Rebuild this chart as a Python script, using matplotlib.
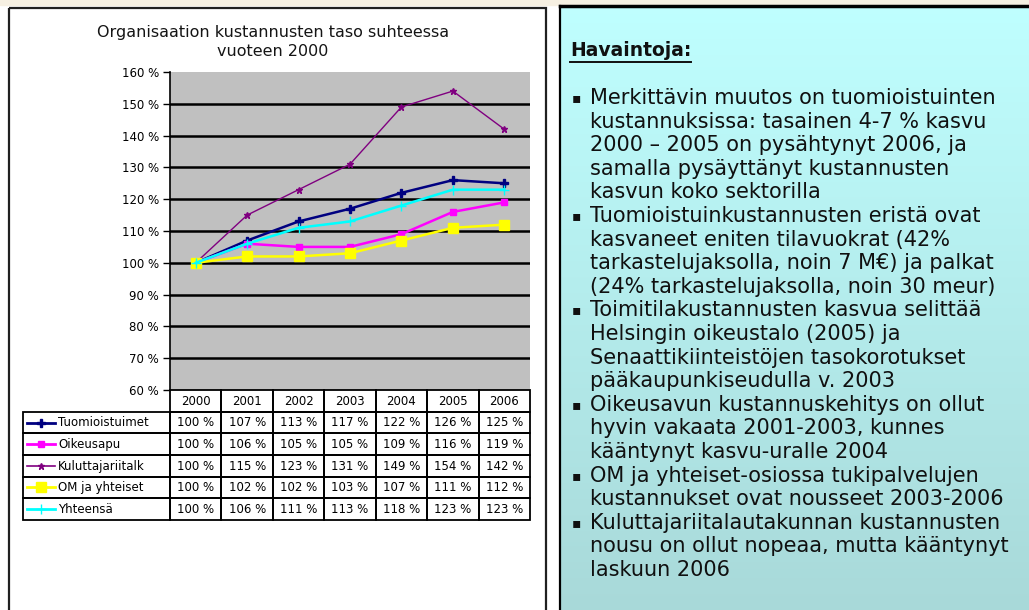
import numpy as np
import matplotlib
matplotlib.use("Agg")
import matplotlib.pyplot as plt
from matplotlib.patches import Rectangle

years = ["2000", "2001", "2002", "2003", "2004", "2005", "2006"]
series_names = ["Tuomioistuimet", "Oikeusapu", "Kuluttajariitalk", "OM ja yhteiset", "Yhteensä"]
tuomioistuimet = [100, 107, 113, 117, 122, 126, 125]
oikeusapu = [100, 106, 105, 105, 109, 116, 119]
kuluttaja = [100, 115, 123, 131, 149, 154, 142]
om_yhteiset = [100, 102, 102, 103, 107, 111, 112]
yhteensa = [100, 106, 111, 113, 118, 123, 123]
series_values = [tuomioistuimet, oikeusapu, kuluttaja, om_yhteiset, yhteensa]
y_ticks = [60, 70, 80, 90, 100, 110, 120, 130, 140, 150, 160]

title = "Organisaation kustannusten taso suhteessa\nvuoteen 2000"
notes_title = "Havaintoja:"
notes = [
    ["Merkittävin muutos on tuomioistuinten",
     "kustannuksissa: tasainen 4-7 % kasvu",
     "2000 – 2005 on pysähtynyt 2006, ja",
     "samalla pysäyttänyt kustannusten",
     "kasvun koko sektorilla"],
    ["Tuomioistuinkustannusten eristä ovat",
     "kasvaneet eniten tilavuokrat (42%",
     "tarkastelujaksolla, noin 7 M€) ja palkat",
     "(24% tarkastelujaksolla, noin 30 meur)"],
    ["Toimitilakustannusten kasvua selittää",
     "Helsingin oikeustalo (2005) ja",
     "Senaattikiinteistöjen tasokorotukset",
     "pääkaupunkiseudulla v. 2003"],
    ["Oikeusavun kustannuskehitys on ollut",
     "hyvin vakaata 2001-2003, kunnes",
     "kääntynyt kasvu-uralle 2004"],
    ["OM ja yhteiset-osiossa tukipalvelujen",
     "kustannukset ovat nousseet 2003-2006"],
    ["Kuluttajariitalautakunnan kustannusten",
     "nousu on ollut nopeaa, mutta kääntynyt",
     "laskuun 2006"],
]

# styles per series
colors = ["#000080", "#FF00FF", "#800080", "#FFFF00", "#00FFFF"]
markers = ["P", "s", "*", "s", "+"]
msizes = [6, 5, 5, 7, 7]
lws = [1.8, 1.8, 1.0, 1.8, 1.8]

W, H = 1029, 610
fig = plt.figure(figsize=(W / 100, H / 100), dpi=100)
fig.patch.set_facecolor("white")


def fx(px):
    return px / W


def fy(py):
    return 1 - py / H


# background panels
bg = fig.add_axes([0, 0, 1, 1])
bg.axis("off")
bg.add_patch(Rectangle((0, 0), W, 5, color="#F6F0E2", zorder=0))
bg.add_patch(Rectangle((9, 8), 537, 620, fill=False, ec="#202020", lw=1.6))

# gradient for the notes panel
grad = np.linspace(0, 1, 256).reshape(-1, 1)
top_c = np.array([0.75, 1.0, 1.0])
bot_c = np.array([0.66, 0.85, 0.85])
img = top_c + (bot_c - top_c) * grad[:, :, None] * np.ones((1, 1, 3))
bg.imshow(img, extent=[560, W + 5, H + 5, 6], aspect="auto", zorder=1)
bg.plot([560, W + 5], [6, 6], color="black", lw=2.5, zorder=2)
bg.plot([560, 560], [6, H + 5], color="black", lw=1.6, zorder=2)
bg.set_xlim(0, W)
bg.set_ylim(H, 0)

# title
fig.text(fx(273), fy(42), title, ha="center", va="center", fontsize=11.5,
         linespacing=1.3, color="#151515")

# main plot
ax = fig.add_axes([fx(170), fy(390), fx(530) - fx(170), fy(72) - fy(390)])
ax.set_facecolor("#C0C0C0")
x = np.arange(len(years))
order = [2, 4, 0, 1, 3]
for i in order:
    ax.plot(x, series_values[i], color=colors[i], marker=markers[i],
            markersize=msizes[i], lw=lws[i], zorder=3 + i * 0.1,
            markeredgecolor=colors[i])
ax.set_xlim(-0.5, len(years) - 0.5)
ax.set_ylim(y_ticks[0], y_ticks[-1])
ax.set_yticks(y_ticks)
ax.set_yticklabels([f"{v} %" for v in y_ticks], fontsize=8.5)
ax.set_xticks([])
for v in y_ticks[1:-1]:
    ax.axhline(v, color="black", lw=1.8, zorder=2)
for s in ["top", "right", "bottom"]:
    ax.spines[s].set_visible(False)
ax.spines["left"].set_linewidth(1.2)
ax.tick_params(axis="y", length=5, width=1, pad=3, direction="out")

# data table under the plot
tab = fig.add_axes([fx(23), fy(520), fx(530) - fx(23), fy(390) - fy(520)])
col_w = (530 - 170) / len(years)
left_x = -0.5 - (170 - 23) / col_w
tab.set_xlim(left_x, len(years) - 0.5)
n_rows = len(series_names) + 1
tab.set_ylim(n_rows, 0)
tab.axis("off")
# header cells
for j, yr in enumerate(years):
    tab.add_patch(Rectangle((j - 0.5, 0), 1, 1, fill=False, ec="black", lw=1.3, clip_on=False))
    tab.text(j, 0.52, yr, ha="center", va="center", fontsize=8.5)
for r, name in enumerate(series_names):
    row = r + 1
    tab.add_patch(Rectangle((left_x, row), -0.5 - left_x, 1, fill=False, ec="black", lw=1.3, clip_on=False))
    # legend key
    kx0 = left_x + 0.08
    kx1 = left_x + 0.62
    tab.plot([kx0, kx1], [row + 0.5, row + 0.5], color=colors[r], lw=lws[r] + 0.2, clip_on=False)
    tab.plot([(kx0 + kx1) / 2], [row + 0.5], color=colors[r], marker=markers[r],
             markersize=msizes[r], markeredgecolor=colors[r], clip_on=False)
    tab.text(kx1 + 0.06, row + 0.52, name, ha="left", va="center", fontsize=8.5)
    for j, v in enumerate(series_values[r]):
        tab.add_patch(Rectangle((j - 0.5, row), 1, 1, fill=False, ec="black", lw=1.3, clip_on=False))
        tab.text(j, row + 0.52, f"{v} %", ha="center", va="center", fontsize=8.5)

# notes panel text
ht = fig.text(fx(570), fy(51), notes_title, ha="left", va="center",
              fontsize=13.5, fontweight="bold", color="#101010")
fig.canvas.draw()
bb = ht.get_window_extent()
bg.plot([570, 570 + bb.width], [62, 62], color="#101010", lw=1.4, zorder=3)

line_h = 23.6
y0 = 98
k = 0
for bullet in notes:
    fig.text(fx(572), fy(y0 + k * line_h), "▪", ha="left", va="center",
             fontsize=10, color="#101010")
    for line in bullet:
        fig.text(fx(590), fy(y0 + k * line_h), line, ha="left", va="center",
                 fontsize=15, color="#101010")
        k += 1

fig.savefig("out.png", dpi=100)
